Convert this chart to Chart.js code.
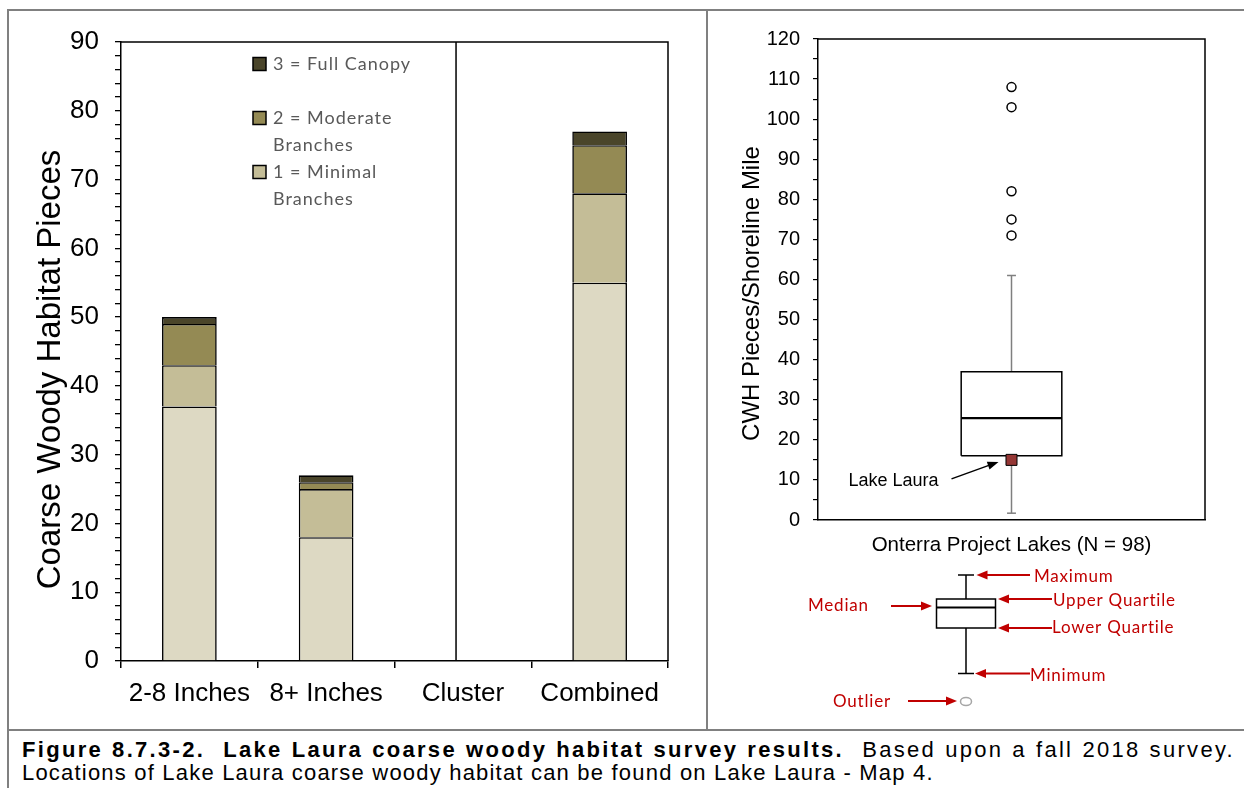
<!DOCTYPE html>
<html>
<head>
<meta charset="utf-8">
<script src="https://cdn.jsdelivr.net/npm/chart.js@4.4.1/dist/chart.umd.min.js"></script>
<style>
  html, body { margin: 0; padding: 0; background: #fff; }
  body { width: 1244px; height: 788px; position: relative; overflow: hidden; font-family: "Liberation Sans", Arial, sans-serif; }
  .frame { position: absolute; left: 7px; top: 9px; width: 1300px; height: 900px; border-left: 2px solid #808080; border-top: 2px solid #808080; }
  .vline { position: absolute; left: 706px; top: 9px; width: 2px; height: 721px; background: #808080; }
  .hline { position: absolute; left: 7px; top: 729px; width: 1240px; height: 2px; background: #808080; }
  #left { position: absolute; left: 0; top: 0; }
  #right { position: absolute; left: 708px; top: 0; }
  .caption { position: absolute; left: 22px; top: 739px; width: 1213px; font-size: 22px; line-height: 22.5px; letter-spacing: 1.2px; color: #000; white-space: nowrap; }
  .caption .l1 { letter-spacing: 2.3px; text-align: justify; text-align-last: justify; white-space: normal; }
</style>
</head>
<body>
<div class="frame"></div>
<div class="vline"></div>
<div class="hline"></div>
<canvas id="left" width="706" height="728"></canvas>
<canvas id="right" width="536" height="728"></canvas>
<div class="caption">
  <div class="l1"><b>Figure 8.7.3-2.&nbsp; Lake Laura coarse woody habitat survey results.</b>&nbsp; Based upon a fall 2018 survey.</div>
  <div>Locations of Lake Laura coarse woody habitat can be found on Lake Laura - Map 4.</div>
</div>

<script>
// left chart: CWH pieces by size class
const categories = ['2-8 Inches', '8+ Inches', 'Cluster', 'Combined'];
const noBranches = [37, 18, 0, 55];
const minimalBranches = [6, 7, 0, 13];
const moderateBranches = [6, 1, 0, 7];
const fullCanopy = [1, 1, 0, 2];
const seriesLabels = ['0 = No Branches', '1 = Minimal\nBranches', '2 = Moderate\nBranches', '3 = Full Canopy'];
const seriesColors = ['#DDD9C3', '#C4BD97', '#948A54', '#4A452A'];

// right chart: box plot of Onterra project lakes
const groupLabel = 'Onterra Project Lakes (N = 98)';
const boxSummary = [1.7, 16, 25.4, 37, 61]; // min, Q1, median, Q3, max
const outliers = [108, 103, 82, 75, 71];
const lakeLaura = [15];

const FONT = '"Liberation Sans", Arial, sans-serif';
const LEGEND_FONT = 'Lato, "Open Sans", sans-serif';
Chart.defaults.font.family = FONT;
Chart.defaults.color = '#000';

function arrow(ctx, x0, y0, x1, y1, color, width, headLen, headW) {
    const ang = Math.atan2(y1 - y0, x1 - x0);
    ctx.strokeStyle = color;
    ctx.fillStyle = color;
    ctx.lineWidth = width;
    ctx.beginPath();
    ctx.moveTo(x0, y0);
    ctx.lineTo(x1 - Math.cos(ang) * headLen * 0.8, y1 - Math.sin(ang) * headLen * 0.8);
    ctx.stroke();
    ctx.beginPath();
    ctx.moveTo(x1, y1);
    ctx.lineTo(x1 - Math.cos(ang) * headLen - Math.sin(ang) * headW / 2, y1 - Math.sin(ang) * headLen + Math.cos(ang) * headW / 2);
    ctx.lineTo(x1 - Math.cos(ang) * headLen + Math.sin(ang) * headW / 2, y1 - Math.sin(ang) * headLen - Math.cos(ang) * headW / 2);
    ctx.closePath();
    ctx.fill();
}

// rotated axis title, placed a bit below the middle like the Excel original
function sideTitle(ctx, text, size, x, y) {
    ctx.save();
    ctx.translate(x, y);
    ctx.rotate(-Math.PI / 2);
    ctx.font = size + 'px ' + FONT;
    ctx.fillStyle = '#000';
    ctx.textAlign = 'center';
    ctx.textBaseline = 'middle';
    ctx.fillText(text, 0, 0);
    ctx.restore();
}

const leftDecor = {
    id: 'leftDecor',
    afterDraw(chart) {
        const { ctx, chartArea: a, scales: { x } } = chart;
        ctx.save();
        ctx.strokeStyle = '#000';
        ctx.lineWidth = 1.5;
        ctx.beginPath();
        ctx.moveTo(a.left, a.top);
        ctx.lineTo(a.right, a.top);
        ctx.lineTo(a.right, a.bottom);
        // separator line at the Cluster column
        const step = x.getPixelForValue(1) - x.getPixelForValue(0);
        const sx = x.getPixelForValue(2) - 0.05 * step;
        ctx.moveTo(sx, a.top);
        ctx.lineTo(sx, a.bottom);
        ctx.stroke();

        sideTitle(ctx, 'Coarse Woody Habitat Pieces', 33, 50.5, (a.top + a.bottom) / 2 + 18);

        // legend (top item first, bottom series left out like the original)
        const items = chart.data.datasets.filter(d => d.inLegend !== false).reverse();
        const bx = a.left + 132;
        let y = a.top + 22;
        ctx.font = '18px ' + LEGEND_FONT;
        ctx.letterSpacing = '1px';
        ctx.textBaseline = 'middle';
        items.forEach(d => {
            ctx.fillStyle = d.backgroundColor;
            ctx.fillRect(bx, y - 6.5, 13, 13);
            ctx.strokeRect(bx, y - 6.5, 13, 13);
            ctx.fillStyle = '#595959';
            d.label.split('\n').forEach((line, i) => ctx.fillText(line, bx + 20, y + i * 27));
            y += 54;
        });
        ctx.letterSpacing = '0px';
        ctx.restore();
    }
};

new Chart(document.getElementById('left'), {
    type: 'bar',
    data: {
        labels: categories,
        datasets: [noBranches, minimalBranches, moderateBranches, fullCanopy].map((vals, i) => ({
            label: seriesLabels[i],
            data: vals,
            backgroundColor: seriesColors[i],
            borderColor: '#000',
            borderWidth: 1.6,
            borderSkipped: 'start',
            barPercentage: 0.4,
            categoryPercentage: 1,
            inLegend: i > 0
        }))
    },
    options: {
        responsive: false,
        animation: false,
        layout: { padding: { top: 42, right: 38, bottom: 0, left: 0 } },
        plugins: { legend: { display: false }, tooltip: { enabled: false } },
        scales: {
            x: {
                stacked: true,
                offset: true,
                grid: { display: true, offset: true, drawOnChartArea: false, tickLength: 7, color: '#000', lineWidth: 1.5 },
                border: { display: true, color: '#000', width: 1.5 },
                ticks: { font: { size: 26 }, color: '#000', padding: 10, maxRotation: 0, autoSkip: false },
                afterFit: s => { s.height = 67; }
            },
            y: {
                stacked: true,
                min: 0,
                max: 90,
                ticks: { stepSize: 2, autoSkip: false, callback: v => v % 10 === 0 ? v : '', font: { size: 26 }, color: '#000', padding: 16 },
                grid: { drawOnChartArea: false, tickLength: 6, color: '#000', lineWidth: 1.3 },
                border: { display: true, color: '#000', width: 1.5 },
                afterFit: s => { s.width = 121; }
            }
        }
    },
    plugins: [leftDecor]
});

// box plot pieces, drawn as line segments in data units
const C = 1, BOX_HW = 0.26, CAP_HW = 0.023;
const [minV, q1, med, q3, maxV] = boxSummary;
function seg(pts, color, width) {
    return { data: pts, showLine: true, borderColor: color, borderWidth: width, pointRadius: 0, fill: false };
}

const rightDecor = {
    id: 'rightDecor',
    afterDraw(chart) {
        const { ctx, chartArea: a } = chart;
        ctx.save();
        ctx.strokeStyle = '#000';
        ctx.lineWidth = 1.5;
        ctx.beginPath();
        ctx.moveTo(a.left, a.top);
        ctx.lineTo(a.right, a.top);
        ctx.lineTo(a.right, a.bottom);
        ctx.stroke();

        sideTitle(ctx, 'CWH Pieces/Shoreline Mile', 24, 44.7, (a.top + a.bottom) / 2 + 14);

        // Lake Laura callout
        const p = chart.getDatasetMeta(0).data[0];
        ctx.font = '18px ' + FONT;
        ctx.fillStyle = '#000';
        ctx.textAlign = 'right';
        ctx.textBaseline = 'alphabetic';
        ctx.fillText('Lake Laura', p.x - 73, p.y + 26);
        arrow(ctx, p.x - 60, p.y + 19, p.x - 13, p.y + 2, '#000', 1.5, 11, 8);

        // key explaining the box plot
        const wx = a.left + 148, B = a.bottom;
        ctx.strokeStyle = '#000';
        ctx.lineWidth = 1.5;
        ctx.beginPath();
        ctx.moveTo(wx - 8, B + 55); ctx.lineTo(wx + 8, B + 55);
        ctx.moveTo(wx, B + 55); ctx.lineTo(wx, B + 79);
        ctx.moveTo(wx, B + 108); ctx.lineTo(wx, B + 153.5);
        ctx.moveTo(wx - 8, B + 153.5); ctx.lineTo(wx + 8, B + 153.5);
        ctx.rect(wx - 29.5, B + 79, 59, 29);
        ctx.stroke();
        ctx.lineWidth = 2.2;
        ctx.beginPath();
        ctx.moveTo(wx - 29.5, B + 87.5); ctx.lineTo(wx + 29.5, B + 87.5);
        ctx.stroke();
        ctx.strokeStyle = '#A6A6A6';
        ctx.lineWidth = 1.5;
        ctx.beginPath();
        ctx.ellipse(wx, B + 181.5, 5.5, 4, 0, 0, Math.PI * 2);
        ctx.stroke();

        const red = '#C00000';
        arrow(ctx, wx + 64, B + 55, wx + 10.5, B + 55, red, 2, 11, 9);
        arrow(ctx, wx + 86, B + 79, wx + 32, B + 79, red, 2, 11, 9);
        arrow(ctx, wx + 86, B + 108, wx + 32, B + 108, red, 2, 11, 9);
        arrow(ctx, wx + 64, B + 153.5, wx + 9, B + 153.5, red, 2, 11, 9);
        arrow(ctx, wx - 75, B + 86, wx - 34, B + 86, red, 2, 11, 9);
        arrow(ctx, wx - 58, B + 181, wx - 9, B + 181, red, 2, 11, 9);

        ctx.font = '17px ' + LEGEND_FONT;
        ctx.letterSpacing = '0.8px';
        ctx.fillStyle = red;
        ctx.textAlign = 'left';
        ctx.textBaseline = 'middle';
        ctx.fillText('Maximum', wx + 68, B + 57);
        ctx.fillText('Upper Quartile', wx + 87, B + 81);
        ctx.fillText('Lower Quartile', wx + 86, B + 108);
        ctx.fillText('Minimum', wx + 64, B + 156);
        ctx.fillText('Median', wx - 158, B + 86);
        ctx.fillText('Outlier', wx - 133, B + 182);
        ctx.letterSpacing = '0px';
        ctx.restore();
    }
};

new Chart(document.getElementById('right'), {
    type: 'scatter',
    data: {
        datasets: [
            { label: 'Lake Laura', data: lakeLaura.map(v => ({ x: C, y: v })), pointStyle: 'rect', pointRadius: 7.8,
              pointBackgroundColor: '#953735', pointBorderColor: '#000', pointBorderWidth: 1 },
            { label: 'Outliers', data: outliers.map(v => ({ x: C, y: v })), pointRadius: 4.5,
              pointBackgroundColor: '#fff', pointBorderColor: '#000', pointBorderWidth: 1.5 },
            seg([{ x: C - BOX_HW, y: med }, { x: C + BOX_HW, y: med }], '#000', 2.2),
            seg([{ x: C - BOX_HW, y: q1 }, { x: C + BOX_HW, y: q1 }, { x: C + BOX_HW, y: q3 },
                 { x: C - BOX_HW, y: q3 }, { x: C - BOX_HW, y: q1 }], '#000', 1.5),
            seg([{ x: C, y: minV }, { x: C, y: q1 }], '#7F7F7F', 1.5),
            seg([{ x: C, y: q3 }, { x: C, y: maxV }], '#7F7F7F', 1.5),
            seg([{ x: C - CAP_HW, y: minV }, { x: C + CAP_HW, y: minV }], '#7F7F7F', 1.5),
            seg([{ x: C - CAP_HW, y: maxV }, { x: C + CAP_HW, y: maxV }], '#7F7F7F', 1.5)
        ]
    },
    options: {
        responsive: false,
        animation: false,
        layout: { padding: { top: 39, right: 39, bottom: 168, left: 0 } },
        plugins: { legend: { display: false }, tooltip: { enabled: false } },
        scales: {
            x: {
                type: 'linear',
                min: 0,
                max: 2,
                ticks: { display: false },
                grid: { display: false },
                border: { display: true, color: '#000', width: 1.5 },
                title: { display: true, text: groupLabel, font: { size: 20.5 }, color: '#000', padding: { top: 0, bottom: 2 } },
                afterFit: s => { s.height = 40; }
            },
            y: {
                min: 0,
                max: 120,
                ticks: { stepSize: 5, autoSkip: false, callback: v => v % 10 === 0 ? v : '', font: { size: 20 }, color: '#000', padding: 13 },
                grid: { drawOnChartArea: false, tickLength: 5, color: '#000', lineWidth: 1.2 },
                border: { display: true, color: '#000', width: 1.5 },
                afterFit: s => { s.width = 110; }
            }
        }
    },
    plugins: [rightDecor]
});
</script>
</body>
</html>
